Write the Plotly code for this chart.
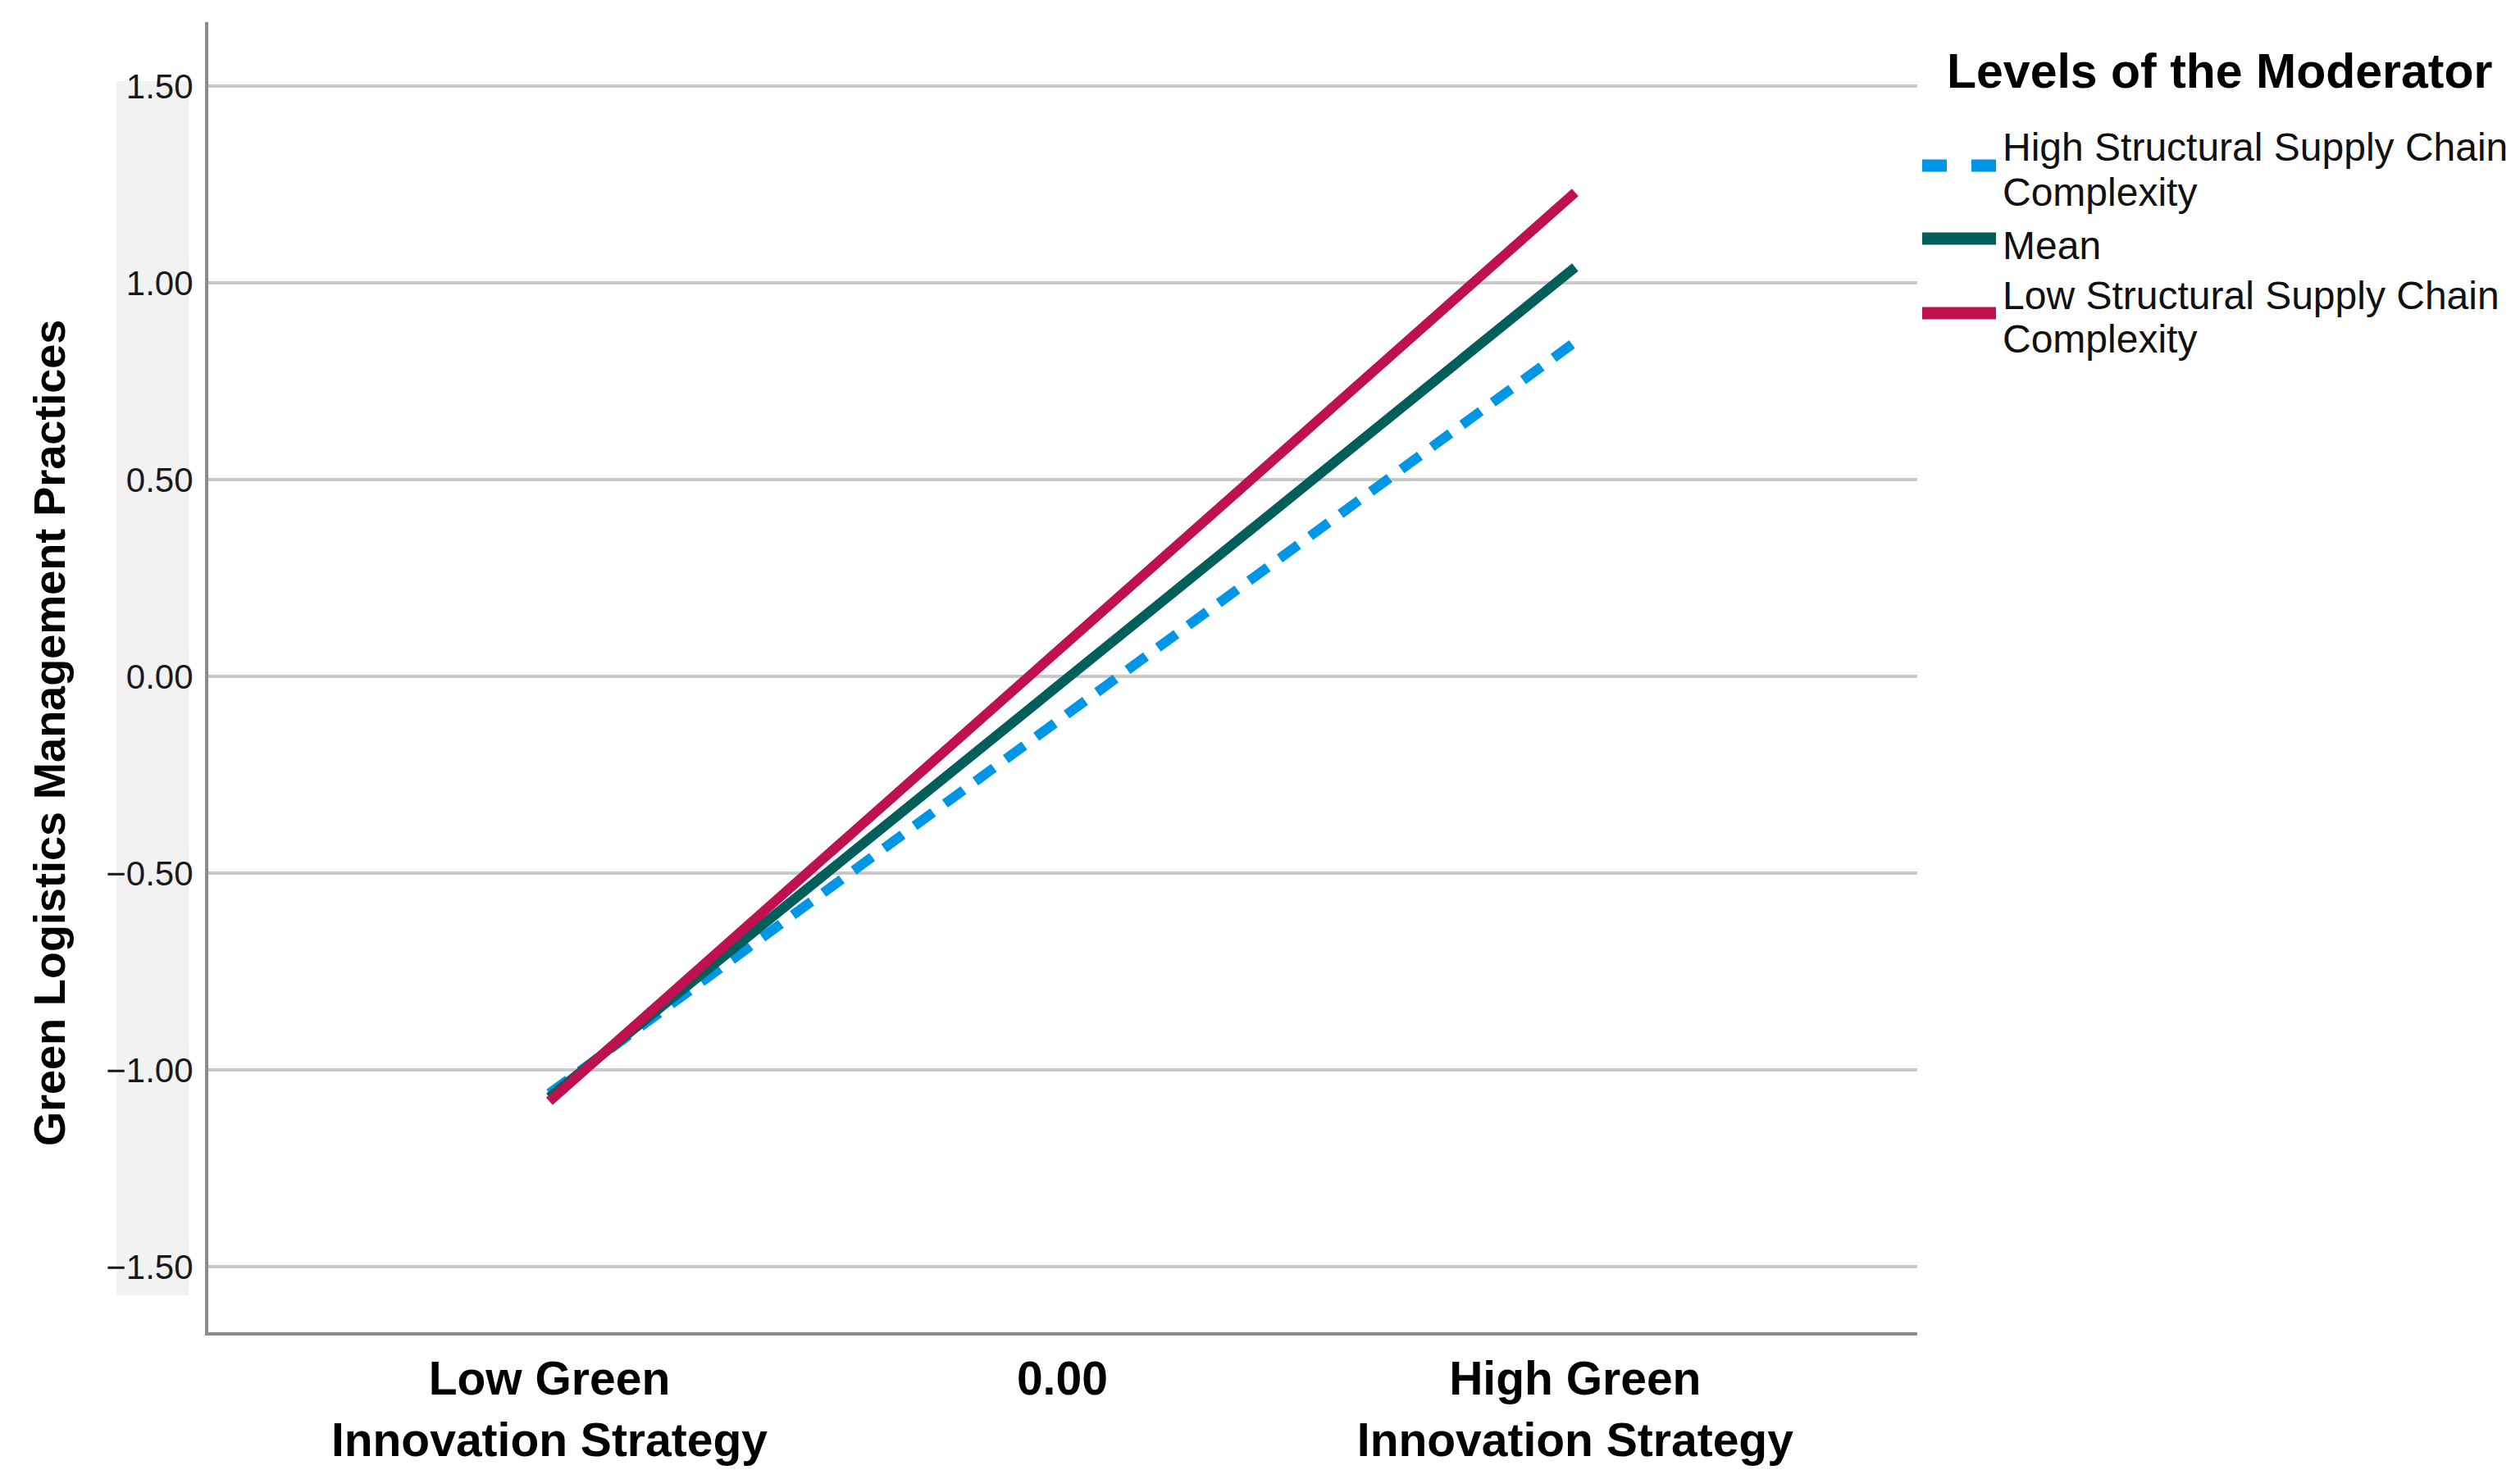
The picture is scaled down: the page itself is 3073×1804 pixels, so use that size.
import plotly.graph_objects as go

# data
x_levels = [-1, 0, 1]
x_ticktext = ["Low Green<br>Innovation Strategy", "0.00", "High Green<br>Innovation Strategy"]
x_line = [-1, 1]

high_complexity = [-1.06, 0.85]
mean_level = [-1.07, 1.04]
low_complexity = [-1.08, 1.23]

y_ticks = [-1.5, -1.0, -0.5, 0.0, 0.5, 1.0, 1.5]

series_names = ["High Structural Supply Chain<br>Complexity", "Mean",
                "Low Structural Supply Chain<br>Complexity"]
series_values = [high_complexity, mean_level, low_complexity]
series_colors = ["#0096e8", "#005f5a", "#bf1050"]
series_dash = ["28px,18px", "solid", "solid"]

W, H = 3073, 1804
# plot area as seen in the reference picture (px)
PX0, PX1, PY0, PY1 = 254, 2338, 27, 1625
PAGE_PAD = 8  # default body margin of the html page
FONT = "Arial, Liberation Sans, sans-serif"


def px_x(p):
    return (p - PX0) / (PX1 - PX0)


def px_y(p):
    return (PY1 - p) / (PY1 - PY0)


fig = go.Figure()
for name, vals, col, dash in zip(series_names, series_values, series_colors, series_dash):
    fig.add_trace(go.Scatter(x=x_line, y=vals, mode="lines", name=name,
                             line=dict(color=col, width=12, dash=dash),
                             showlegend=False))

# grey band behind y tick labels
shapes = [dict(type="rect", xref="paper", yref="paper", layer="below",
               x0=px_x(142), x1=px_x(230), y0=px_y(1580), y1=px_y(99),
               fillcolor="#f2f2f2", line=dict(width=0))]

annotations = [
    dict(text="<b>Green Logistics Management Practices</b>", textangle=-90,
         xref="paper", yref="paper", x=px_x(60), y=px_y(894),
         xanchor="center", yanchor="middle", showarrow=False,
         font=dict(family=FONT, size=54, color="black")),
    dict(text="<b>Levels of the Moderator</b>", xref="paper", yref="paper",
         x=px_x(2372), y=px_y(87), xanchor="left", yanchor="middle",
         showarrow=False, font=dict(family=FONT, size=59, color="black")),
]

# hand-built legend (symbol row y, text line ys)
legend_sym_y = [202, 291, 382]
legend_text_y = [[180, 235], [299], [360, 414]]
for name, col, dash, sy, tys in zip(series_names, series_colors, series_dash,
                                     legend_sym_y, legend_text_y):
    shapes.append(dict(type="line", xref="paper", yref="paper",
                       x0=px_x(2344), x1=px_x(2434), y0=px_y(sy), y1=px_y(sy),
                       line=dict(color=col, width=15,
                                 dash="30px,30px" if dash != "solid" else "solid")))
    for line_text, ty in zip(name.split("<br>"), tys):
        annotations.append(dict(text=line_text, xref="paper", yref="paper",
                                x=px_x(2440), y=px_y(ty), xanchor="left",
                                yanchor="middle", showarrow=False,
                                font=dict(family=FONT, size=48, color="#111111")))

fig.update_layout(
    width=W, height=H,
    margin=dict(l=PX0 - PAGE_PAD, r=W - PX1 + PAGE_PAD,
                t=PY0 - PAGE_PAD, b=H - PY1 + PAGE_PAD),
    paper_bgcolor="white", plot_bgcolor="white",
    shapes=shapes, annotations=annotations,
    xaxis=dict(range=[-1.665, 1.667], tickvals=x_levels,
               ticktext=["<b>" + t.replace("<br>", "</b><br><b>") + "</b>" for t in x_ticktext],
               showgrid=False, zeroline=False, showline=True,
               linecolor="#8c8c8c", linewidth=4, ticks="",
               ticklabelstandoff=4,
               tickfont=dict(family=FONT, size=57, color="black")),
    yaxis=dict(range=[-1.667, 1.663], tickvals=y_ticks, tickformat=".2f",
               showgrid=True, gridcolor="#c8c8c8", gridwidth=4,
               zeroline=False, showline=True, linecolor="#8c8c8c", linewidth=4,
               ticks="", ticklabelstandoff=6,
               tickfont=dict(family=FONT, size=42, color="#1a1a1a")),
)

fig.write_html("out.html")
